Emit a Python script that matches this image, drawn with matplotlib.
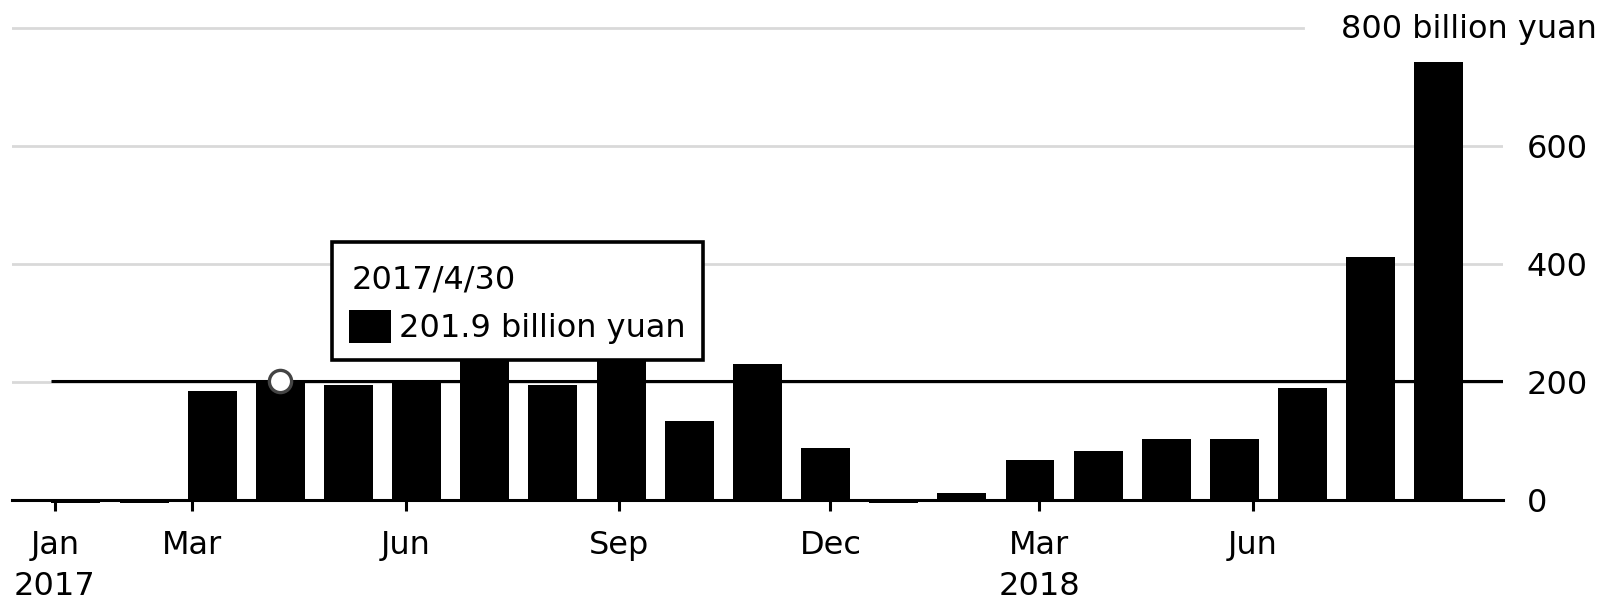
import numpy as np
import pandas as pd
import matplotlib
matplotlib.use("Agg")
import matplotlib.pyplot as plt
from matplotlib.patches import Rectangle

plt.rcParams['font.family'] = ['DejaVu Sans']

# Monthly values, Jan 2017 - Sep 2018 (billion yuan)
months = pd.period_range("2017-01", "2018-09", freq="M")
values = [-4, -4, 186, 201.9, 196, 204, 255, 196, 250, 135, 231, 89,
          -4, 12, 69, 84, 104, 104, 191, 412, 743]

tick_dates = ["2017-01-01", "2017-03-01", "2017-06-01", "2017-09-01",
              "2017-12-01", "2018-03-01", "2018-06-01"]
tick_labels = ["Jan\n2017", "Mar", "Jun", "Sep", "Dec", "Mar\n2018", "Jun"]

y_ticks = [0, 200, 400, 600]
grid_levels = [200, 400, 600, 800]

hover_date = "2017/4/30"
hover_value = 201.9
hover_idx = 3

# x axis in days since 2017-01-01
origin = pd.Timestamp("2017-01-01")
tick_x = [(pd.Timestamp(d) - origin).days for d in tick_dates]
bar_x = 9.0 + 29.355 * np.arange(len(months))
bar_w = 21.1

fig = plt.figure(figsize=(16.01, 6), dpi=100)
ax = fig.add_axes([0.0075, 0.14617, 0.93129, 0.82633])
ax.set_xlim(-18.5, 623.7)
ax.set_ylim(-20, 820)

# gridlines
for g in grid_levels:
    xmax = 0.866 if g == 800 else 1.0
    ax.axhline(g, xmin=0, xmax=xmax, color="#d9d9d9", lw=2, zorder=0)

ax.bar(bar_x, values, width=bar_w, color="black", zorder=2)

# crosshair at the hovered value
ax.hlines(hover_value, bar_x[0] - bar_w / 2, 623.7, color="black", lw=2.2, zorder=3)
ax.plot(bar_x[hover_idx], hover_value, "o", ms=16, mfc="white", mec="#444444",
        mew=2.4, zorder=6)

for s in ["top", "left", "right"]:
    ax.spines[s].set_visible(False)
ax.spines["bottom"].set_position(("data", 0))
ax.spines["bottom"].set_linewidth(2.2)
ax.spines["bottom"].set_zorder(4)

ax.set_xticks(tick_x)
ax.set_xticklabels(tick_labels, fontsize=23, linespacing=1.42)
ax.tick_params(axis="x", length=8, width=2.2, pad=13, color="black")

ax.yaxis.tick_right()
ax.set_yticks(y_ticks)
ax.set_yticklabels([str(v) for v in y_ticks], fontsize=23)
ax.tick_params(axis="y", length=0, pad=17)
ax.text(1.063, 784, "800 billion yuan", transform=ax.get_yaxis_transform(),
        ha="right", va="baseline", fontsize=23, clip_on=False)

# tooltip
ax.add_patch(Rectangle((119.4, 238), 279.2 - 119.4, 437.4 - 238, facecolor="white",
                       edgecolor="black", lw=2.6, zorder=10))
ax.text(127.8, 359.5, hover_date, ha="left", va="baseline", fontsize=23, zorder=11)
ax.add_patch(Rectangle((126.6, 267.3), 144.6 - 126.6, 322.7 - 267.3,
                       facecolor="black", edgecolor="none", zorder=11))
ax.text(148.2, 277.5, f"{hover_value} billion yuan", ha="left", va="baseline",
        fontsize=23, zorder=11)

fig.savefig("out.png", dpi=100)
